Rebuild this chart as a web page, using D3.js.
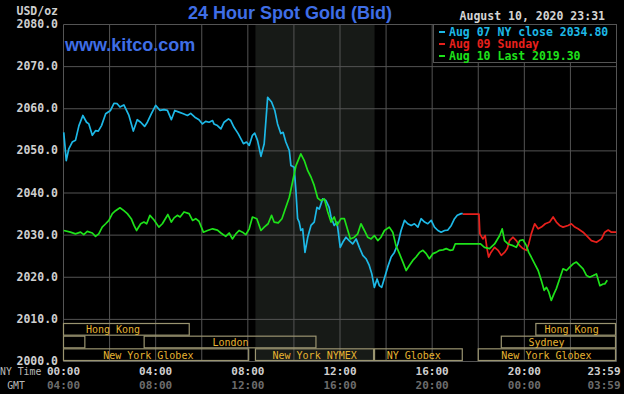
<!DOCTYPE html>
<html>
<head>
<meta charset="utf-8">
<script src="https://cdn.jsdelivr.net/npm/d3@7/dist/d3.min.js"></script>
<style>
body { margin: 0; background: #000; }
svg { display: block; }
</style>
</head>
<body>
<div id="gold-chart"></div>
<script>
// [hour of day NY time, bid price USD/oz]
const aug07 = [[0.01,2054.4],[0.12,2047.7],[0.23,2050.5],[0.38,2052.1],[0.52,2052.5],[0.67,2056.0],[0.84,2058.4],[1.00,2056.8],[1.10,2056.4],[1.25,2053.7],[1.39,2054.8],[1.51,2054.7],[1.65,2056.0],[1.83,2058.8],[2.04,2059.6],[2.19,2061.3],[2.33,2061.2],[2.45,2060.4],[2.62,2060.9],[2.84,2058.4],[3.03,2054.7],[3.20,2057.4],[3.35,2056.8],[3.52,2055.8],[3.64,2056.8],[3.81,2058.8],[4.00,2060.8],[4.19,2059.6],[4.36,2059.8],[4.51,2059.6],[4.68,2057.4],[4.83,2059.6],[5.01,2059.2],[5.20,2058.8],[5.38,2058.4],[5.52,2058.9],[5.70,2058.0],[5.88,2057.4],[6.03,2056.4],[6.17,2057.0],[6.32,2056.8],[6.47,2057.2],[6.53,2056.4],[6.68,2056.0],[6.83,2055.2],[6.97,2056.8],[7.16,2057.6],[7.26,2057.2],[7.40,2055.6],[7.58,2054.1],[7.81,2051.7],[7.94,2052.1],[8.06,2051.3],[8.20,2053.7],[8.30,2054.2],[8.42,2052.5],[8.57,2048.7],[8.71,2051.7],[8.86,2062.7],[9.03,2061.6],[9.17,2059.6],[9.29,2056.4],[9.43,2054.1],[9.53,2054.4],[9.65,2052.1],[9.80,2050.1],[9.87,2046.5],[10.01,2046.1],[10.09,2040.2],[10.16,2033.9],[10.23,2033.1],[10.30,2031.1],[10.38,2031.5],[10.48,2025.9],[10.60,2029.5],[10.74,2032.3],[10.88,2033.1],[11.00,2036.6],[11.10,2036.2],[11.25,2038.6],[11.39,2038.2],[11.53,2036.6],[11.61,2034.3],[11.75,2032.3],[11.87,2033.1],[12.01,2027.1],[12.12,2028.3],[12.26,2029.5],[12.40,2028.7],[12.55,2027.9],[12.70,2029.1],[12.84,2027.1],[12.99,2025.2],[13.13,2024.4],[13.27,2022.8],[13.38,2020.8],[13.49,2017.6],[13.61,2019.6],[13.71,2018.0],[13.81,2017.6],[13.93,2019.8],[14.07,2022.4],[14.22,2024.8],[14.36,2025.9],[14.51,2027.9],[14.65,2031.1],[14.80,2033.5],[14.94,2032.7],[15.09,2032.3],[15.23,2032.7],[15.38,2031.9],[15.52,2033.9],[15.67,2033.1],[15.81,2032.7],[15.96,2033.5],[16.10,2031.9],[16.25,2031.1],[16.39,2030.7],[16.54,2031.1],[16.68,2031.2],[16.83,2032.3],[16.97,2033.9],[17.09,2034.7],[17.26,2035.1],[17.33,2035.1]];

const aug09 = [[17.33,2035.0],[18.03,2035.0],[18.07,2030.3],[18.20,2029.1],[18.30,2029.9],[18.38,2026.8],[18.45,2024.8],[18.55,2025.9],[18.71,2027.1],[18.86,2026.4],[19.00,2025.2],[19.14,2025.9],[19.26,2026.8],[19.36,2028.7],[19.51,2029.5],[19.65,2028.7],[19.80,2027.5],[19.94,2026.8],[20.09,2026.4],[20.19,2027.9],[20.30,2030.3],[20.45,2032.7],[20.60,2031.5],[20.74,2031.9],[20.91,2032.7],[21.10,2033.1],[21.25,2034.3],[21.39,2033.1],[21.53,2032.3],[21.68,2031.9],[21.90,2032.3],[22.04,2032.7],[22.19,2031.9],[22.33,2031.5],[22.55,2030.7],[22.70,2029.9],[22.91,2028.7],[23.13,2028.3],[23.35,2029.1],[23.49,2030.7],[23.64,2031.2],[23.78,2030.7],[23.99,2030.7]];

const aug10 = [[0.01,2031.1],[0.30,2030.7],[0.52,2030.3],[0.74,2030.7],[0.88,2030.1],[1.03,2030.9],[1.25,2030.5],[1.39,2029.7],[1.53,2030.3],[1.68,2031.9],[1.83,2032.7],[1.97,2033.5],[2.12,2035.1],[2.26,2035.8],[2.45,2036.5],[2.62,2035.8],[2.77,2035.1],[2.94,2033.9],[3.06,2032.3],[3.17,2031.1],[3.35,2032.7],[3.49,2033.1],[3.61,2032.7],[3.75,2034.7],[3.93,2033.6],[4.14,2031.9],[4.29,2032.7],[4.53,2034.9],[4.68,2033.1],[4.80,2034.1],[4.94,2034.7],[5.06,2034.3],[5.23,2035.5],[5.45,2035.1],[5.60,2033.5],[5.74,2033.9],[5.88,2033.3],[6.07,2030.7],[6.25,2031.1],[6.47,2031.5],[6.68,2031.2],[6.83,2030.5],[7.04,2029.7],[7.19,2030.5],[7.33,2029.1],[7.48,2030.3],[7.62,2031.1],[7.77,2030.7],[7.91,2030.1],[8.06,2031.5],[8.20,2034.3],[8.39,2033.9],[8.57,2031.1],[8.71,2031.9],[8.88,2032.7],[9.03,2034.7],[9.14,2033.1],[9.32,2032.9],[9.48,2033.9],[9.65,2036.6],[9.80,2039.0],[9.94,2042.6],[10.09,2046.5],[10.30,2049.3],[10.45,2047.7],[10.60,2045.3],[10.74,2043.8],[10.88,2041.8],[11.03,2038.8],[11.17,2038.2],[11.32,2038.6],[11.47,2035.5],[11.61,2033.1],[11.75,2034.3],[11.87,2032.3],[12.04,2033.9],[12.19,2033.9],[12.34,2031.1],[12.45,2029.1],[12.62,2029.5],[12.77,2030.3],[12.91,2032.7],[13.06,2031.1],[13.20,2029.5],[13.35,2029.1],[13.49,2029.9],[13.64,2028.7],[13.78,2029.5],[13.93,2031.1],[14.14,2031.9],[14.29,2030.7],[14.43,2027.5],[14.58,2025.6],[14.73,2023.6],[14.87,2021.6],[15.01,2022.8],[15.16,2024.0],[15.30,2024.8],[15.45,2025.9],[15.60,2026.4],[15.74,2025.6],[15.88,2024.4],[16.03,2025.6],[16.17,2025.9],[16.32,2026.4],[16.47,2026.5],[16.61,2026.8],[16.77,2026.4],[16.90,2026.5],[17.00,2027.9],[18.10,2027.9],[18.27,2027.1],[18.49,2026.8],[18.71,2027.9],[18.93,2029.9],[19.04,2031.5],[19.14,2028.7],[19.29,2027.9],[19.51,2027.5],[19.65,2027.1],[19.80,2028.7],[19.94,2028.9],[20.09,2027.5],[20.19,2025.9],[20.30,2024.8],[20.45,2023.2],[20.60,2021.6],[20.74,2019.2],[20.86,2016.9],[20.96,2017.6],[21.06,2016.5],[21.17,2014.5],[21.29,2016.1],[21.39,2017.3],[21.53,2019.6],[21.68,2022.0],[21.83,2021.6],[21.97,2022.4],[22.12,2023.2],[22.26,2023.6],[22.40,2022.8],[22.55,2022.0],[22.70,2020.4],[22.84,2020.0],[22.99,2020.4],[23.13,2020.8],[23.28,2018.0],[23.42,2018.4],[23.49,2018.4],[23.60,2019.3]];

const priceTicks = [2000, 2010, 2020, 2030, 2040, 2050, 2060, 2070, 2080];
const gridHours = d3.range(0, 25, 2);
const timeTicks = [0, 4, 8, 12, 16, 20, 23.983];
const nyLabels = ["00:00", "04:00", "08:00", "12:00", "16:00", "20:00", "23:59"];
const gmtLabels = ["04:00", "08:00", "12:00", "16:00", "20:00", "00:00", "03:59"];

// trading sessions: row, start/end hour, hour where the name sits
const sessionNames = ["Hong Kong", "", "London", "Sydney", "Hong Kong", "New York Globex", "New York NYMEX", "NY Globex", "New York Globex"];
const sessionRows = [0, 1, 1, 1, 0, 2, 2, 2, 2];
const sessionStart = [0, 0, 3.5, 19, 20.5, 0, 8.33, 13.5, 18];
const sessionEnd = [5.5, 0.97, 11, 24, 24, 8.08, 13.5, 17.35, 24];
const sessionLabelAt = [2.15, 0.5, 7.25, 20.96, 22.05, 3.68, 10.9, 15.2, 20.96];
const nymexHours = [8.33, 13.5];

const legendLabels = ["Aug 07 NY close 2034.80", "Aug 09 Sunday", "Aug 10 Last 2019.30"];
const legendColors = ["#1db8e6", "#e8201c", "#1ee21a"];

const width = 624, height = 394;
const mono = "'DejaVu Sans Mono', monospace";

const svg = d3.select("#gold-chart")
    .append("svg")
    .attr("width", width)
    .attr("height", height)
    .style("background", "#000");

const x = d3.scaleLinear().domain([0, 24]).range([63.5, 616.5]);
const y = d3.scaleLinear().domain([2000, 2080]).range([361.5, 24.5]);

// NYMEX hours shading
svg.append("rect")
    .attr("x", x(nymexHours[0]))
    .attr("y", y(2080))
    .attr("width", x(nymexHours[1]) - x(nymexHours[0]))
    .attr("height", y(2000) - y(2080))
    .attr("fill", "#171a17");

// grid
svg.append("g")
    .selectAll("line")
    .data(priceTicks)
    .enter().append("line")
    .attr("x1", x(0)).attr("x2", x(24))
    .attr("y1", d => y(d)).attr("y2", d => y(d))
    .attr("stroke", "#545454");

svg.append("g")
    .selectAll("line")
    .data(gridHours)
    .enter().append("line")
    .attr("x1", d => x(d)).attr("x2", d => x(d))
    .attr("y1", y(2080)).attr("y2", y(2000))
    .attr("stroke", "#545454");

// session boxes
const rowBand = d3.scaleBand().domain([0, 1, 2]).range([323, 361]);
const sessions = sessionNames.map((name, i) => ({
    name: name, row: sessionRows[i], start: sessionStart[i], end: sessionEnd[i], at: sessionLabelAt[i]
}));

svg.append("g")
    .selectAll("rect")
    .data(sessions)
    .enter().append("rect")
    .attr("x", d => x(d.start))
    .attr("y", d => rowBand(d.row) + 0.5)
    .attr("width", d => x(d.end) - x(d.start) - 1)
    .attr("height", rowBand.bandwidth() - 1)
    .attr("fill", "none")
    .attr("stroke", "#9a9470")
    .attr("stroke-width", 1.2);

svg.append("g")
    .selectAll("text")
    .data(sessions)
    .enter().append("text")
    .attr("x", d => x(d.at))
    .attr("y", d => rowBand(d.row) + rowBand.bandwidth() / 2 + 1)
    .attr("text-anchor", "middle")
    .attr("dominant-baseline", "middle")
    .style("font-family", mono)
    .style("font-size", "10px")
    .attr("fill", "#e6b432")
    .text(d => d.name);

// price lines
const line = d3.line()
    .x(d => x(d[0]))
    .y(d => y(d[1]));

[aug07, aug09, aug10].forEach((series, i) => {
    svg.append("path")
        .datum(series)
        .attr("d", line)
        .attr("fill", "none")
        .attr("stroke", legendColors[i])
        .attr("stroke-width", 1.7)
        .attr("stroke-linejoin", "round");
});

// y axis labels
svg.append("g")
    .selectAll("text")
    .data(priceTicks)
    .enter().append("text")
    .attr("x", 58)
    .attr("y", d => y(d))
    .attr("text-anchor", "end")
    .attr("dominant-baseline", "middle")
    .style("font-family", mono)
    .style("font-size", "11.5px")
    .style("font-weight", "bold")
    .attr("fill", "#cfcfcf")
    .text(d => d.toFixed(1));

svg.append("text")
    .attr("x", 58).attr("y", 11)
    .attr("text-anchor", "end")
    .attr("dominant-baseline", "middle")
    .style("font-family", mono)
    .style("font-size", "11.5px")
    .style("font-weight", "bold")
    .attr("fill", "#cfcfcf")
    .text("USD/oz");

// time labels
function timeRow(labels, yPos, color) {
    svg.append("g")
        .selectAll("text")
        .data(timeTicks)
        .enter().append("text")
        .attr("x", d => Math.min(x(d), width - 20))
        .attr("y", yPos)
        .attr("text-anchor", "middle")
        .attr("dominant-baseline", "middle")
        .style("font-family", mono)
        .style("font-size", "11px")
        .style("font-weight", "bold")
        .attr("fill", color)
        .text((d, i) => labels[i]);
}
timeRow(nyLabels, 372, "#cfcfcf");
timeRow(gmtLabels, 385.5, "#6c6c6c");

svg.append("text")
    .attr("x", 0).attr("y", 372)
    .attr("dominant-baseline", "middle")
    .style("font-family", mono)
    .style("font-size", "9.8px")
    .attr("fill", "#b8b8b8")
    .text("NY Time");
svg.append("text")
    .attr("x", 16).attr("y", 385.5)
    .attr("text-anchor", "middle")
    .attr("dominant-baseline", "middle")
    .style("font-family", mono)
    .style("font-size", "9.8px")
    .attr("fill", "#b8b8b8")
    .text("GMT");

// titles
svg.append("text")
    .attr("x", 290).attr("y", 14)
    .attr("text-anchor", "middle")
    .attr("dominant-baseline", "middle")
    .style("font-family", "'Liberation Sans', Arial, sans-serif")
    .style("font-size", "18px")
    .style("font-weight", "bold")
    .attr("fill", "#3f6ee6")
    .text("24 Hour Spot Gold (Bid)");

svg.append("text")
    .attr("x", 65).attr("y", 46)
    .attr("dominant-baseline", "middle")
    .style("font-family", "'Liberation Sans', Arial, sans-serif")
    .style("font-size", "18px")
    .style("font-weight", "bold")
    .attr("fill", "#3f6ee6")
    .text("www.kitco.com");

svg.append("text")
    .attr("x", 605).attr("y", 16)
    .attr("text-anchor", "end")
    .attr("dominant-baseline", "middle")
    .style("font-family", mono)
    .style("font-size", "11.5px")
    .style("font-weight", "bold")
    .attr("fill", "#d4d4d4")
    .text("August 10, 2020 23:31");

// legend
const legend = svg.append("g");
legend.append("rect")
    .attr("x", 433.5).attr("y", y(2080))
    .attr("width", x(24) - 433.5).attr("height", 38)
    .attr("fill", "#000")
    .attr("stroke", "#545454");

legendLabels.forEach((label, i) => {
    const ly = 32 + i * 12;
    legend.append("line")
        .attr("x1", 439).attr("x2", 445)
        .attr("y1", ly).attr("y2", ly)
        .attr("stroke", legendColors[i])
        .attr("stroke-width", 2);
    legend.append("text")
        .attr("x", 449).attr("y", ly)
        .attr("dominant-baseline", "middle")
        .style("font-family", mono)
        .style("font-size", "11.5px")
        .style("font-weight", "bold")
        .attr("fill", legendColors[i])
        .text(label);
});
</script>
</body>
</html>
